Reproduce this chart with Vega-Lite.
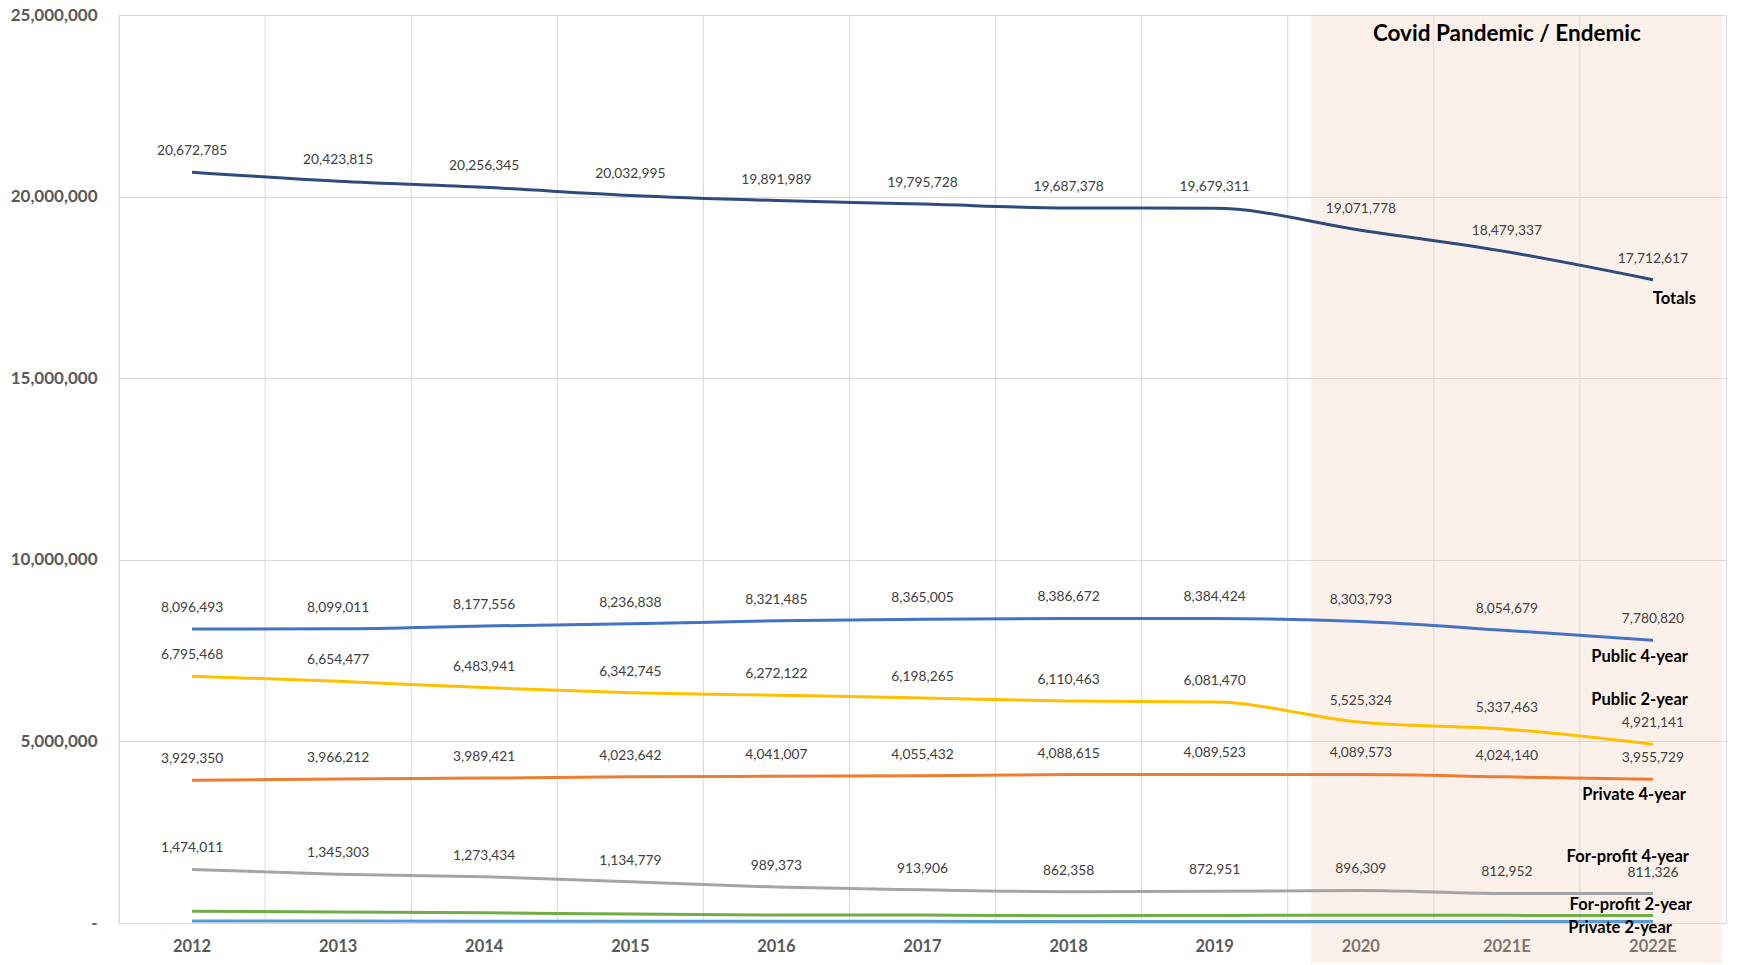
{
  "$schema": "https://vega.github.io/schema/vega-lite/v6.json",
  "width": 1607,
  "height": 908,
  "autosize": {"type": "none"},
  "padding": {"left": 119, "top": 15, "right": 15, "bottom": 42},
  "background": "white",
  "config": {
    "view": {"stroke": "#D9D9D9", "strokeWidth": 1},
    "axisX": {"grid": false, "domain": false, "ticks": false, "labelFont": "Lato", "labelFontWeight": "bold", "labelFontSize": 16.5, "labelColor": "#595959", "labelPadding": 15, "labelAngle": 0, "zindex": 1},
    "axisY": {"grid": true, "gridColor": "#D9D9D9", "gridWidth": 1, "domain": false, "ticks": false, "labelFont": "Lato", "labelFontWeight": "bold", "labelFontSize": 17, "labelColor": "#595959", "labelPadding": 22, "zindex": 0},
    "text": {"font": "Lato"}
  },
  "data": {
    "values": [
      {"year": "2012", "series": "Totals", "value": 20672785},
      {"year": "2013", "series": "Totals", "value": 20423815},
      {"year": "2014", "series": "Totals", "value": 20256345},
      {"year": "2015", "series": "Totals", "value": 20032995},
      {"year": "2016", "series": "Totals", "value": 19891989},
      {"year": "2017", "series": "Totals", "value": 19795728},
      {"year": "2018", "series": "Totals", "value": 19687378},
      {"year": "2019", "series": "Totals", "value": 19679311},
      {"year": "2020", "series": "Totals", "value": 19071778},
      {"year": "2021E", "series": "Totals", "value": 18479337},
      {"year": "2022E", "series": "Totals", "value": 17712617},
      {"year": "2012", "series": "Public 4-year", "value": 8096493},
      {"year": "2013", "series": "Public 4-year", "value": 8099011},
      {"year": "2014", "series": "Public 4-year", "value": 8177556},
      {"year": "2015", "series": "Public 4-year", "value": 8236838},
      {"year": "2016", "series": "Public 4-year", "value": 8321485},
      {"year": "2017", "series": "Public 4-year", "value": 8365005},
      {"year": "2018", "series": "Public 4-year", "value": 8386672},
      {"year": "2019", "series": "Public 4-year", "value": 8384424},
      {"year": "2020", "series": "Public 4-year", "value": 8303793},
      {"year": "2021E", "series": "Public 4-year", "value": 8054679},
      {"year": "2022E", "series": "Public 4-year", "value": 7780820},
      {"year": "2012", "series": "Public 2-year", "value": 6795468},
      {"year": "2013", "series": "Public 2-year", "value": 6654477},
      {"year": "2014", "series": "Public 2-year", "value": 6483941},
      {"year": "2015", "series": "Public 2-year", "value": 6342745},
      {"year": "2016", "series": "Public 2-year", "value": 6272122},
      {"year": "2017", "series": "Public 2-year", "value": 6198265},
      {"year": "2018", "series": "Public 2-year", "value": 6110463},
      {"year": "2019", "series": "Public 2-year", "value": 6081470},
      {"year": "2020", "series": "Public 2-year", "value": 5525324},
      {"year": "2021E", "series": "Public 2-year", "value": 5337463},
      {"year": "2022E", "series": "Public 2-year", "value": 4921141},
      {"year": "2012", "series": "Private 4-year", "value": 3929350},
      {"year": "2013", "series": "Private 4-year", "value": 3966212},
      {"year": "2014", "series": "Private 4-year", "value": 3989421},
      {"year": "2015", "series": "Private 4-year", "value": 4023642},
      {"year": "2016", "series": "Private 4-year", "value": 4041007},
      {"year": "2017", "series": "Private 4-year", "value": 4055432},
      {"year": "2018", "series": "Private 4-year", "value": 4088615},
      {"year": "2019", "series": "Private 4-year", "value": 4089523},
      {"year": "2020", "series": "Private 4-year", "value": 4089573},
      {"year": "2021E", "series": "Private 4-year", "value": 4024140},
      {"year": "2022E", "series": "Private 4-year", "value": 3955729},
      {"year": "2012", "series": "For-profit 4-year", "value": 1474011},
      {"year": "2013", "series": "For-profit 4-year", "value": 1345303},
      {"year": "2014", "series": "For-profit 4-year", "value": 1273434},
      {"year": "2015", "series": "For-profit 4-year", "value": 1134779},
      {"year": "2016", "series": "For-profit 4-year", "value": 989373},
      {"year": "2017", "series": "For-profit 4-year", "value": 913906},
      {"year": "2018", "series": "For-profit 4-year", "value": 862358},
      {"year": "2019", "series": "For-profit 4-year", "value": 872951},
      {"year": "2020", "series": "For-profit 4-year", "value": 896309},
      {"year": "2021E", "series": "For-profit 4-year", "value": 812952},
      {"year": "2022E", "series": "For-profit 4-year", "value": 811326},
      {"year": "2012", "series": "For-profit 2-year", "value": 322463},
      {"year": "2013", "series": "For-profit 2-year", "value": 305812},
      {"year": "2014", "series": "For-profit 2-year", "value": 280993},
      {"year": "2015", "series": "For-profit 2-year", "value": 245991},
      {"year": "2016", "series": "For-profit 2-year", "value": 221002},
      {"year": "2017", "series": "For-profit 2-year", "value": 218120},
      {"year": "2018", "series": "For-profit 2-year", "value": 196270},
      {"year": "2019", "series": "For-profit 2-year", "value": 208943},
      {"year": "2020", "series": "For-profit 2-year", "value": 215779},
      {"year": "2021E", "series": "For-profit 2-year", "value": 210103},
      {"year": "2022E", "series": "For-profit 2-year", "value": 204601},
      {"year": "2012", "series": "Private 2-year", "value": 55000},
      {"year": "2013", "series": "Private 2-year", "value": 53000},
      {"year": "2014", "series": "Private 2-year", "value": 51000},
      {"year": "2015", "series": "Private 2-year", "value": 49000},
      {"year": "2016", "series": "Private 2-year", "value": 47000},
      {"year": "2017", "series": "Private 2-year", "value": 45000},
      {"year": "2018", "series": "Private 2-year", "value": 43000},
      {"year": "2019", "series": "Private 2-year", "value": 42000},
      {"year": "2020", "series": "Private 2-year", "value": 41000},
      {"year": "2021E", "series": "Private 2-year", "value": 40000},
      {"year": "2022E", "series": "Private 2-year", "value": 39000}
    ]
  },
  "layer": [
    {
      "data": {"values": [{"period": "Covid Pandemic / Endemic"}]},
      "mark": {"type": "rect", "fill": "#F4C7AD", "opacity": 0.25},
      "encoding": {
        "x": {"datum": "2020", "type": "ordinal", "bandPosition": 0.16,
              "scale": {"type": "band", "domain": ["2012","2013","2014","2015","2016","2017","2018","2019","2020","2021E","2022E"], "paddingInner": 0, "paddingOuter": 0},
              "axis": {"title": null}},
        "x2": {"datum": "2022E", "bandPosition": 0.97},
        "y": {"datum": 25000000, "type": "quantitative",
              "scale": {"domain": [0, 25000000], "nice": false, "zero": false},
              "axis": {"title": null, "values": [0, 5000000, 10000000, 15000000, 20000000, 25000000], "labelExpr": "datum.value == 0 ? '-\u00a0\u00a0\u00a0' : format(datum.value, ',')"}},
        "y2": {"datum": -1100000}
      }
    },
    {
      "transform": [{"filter": "datum.series == 'Totals'"}],
      "mark": {"type": "rule", "color": "#D9D9D9", "strokeWidth": 1},
      "encoding": {
        "x": {"field": "year", "type": "ordinal", "bandPosition": 0}
      }
    },
    {
      "mark": {"type": "line", "strokeWidth": 3, "interpolate": "monotone"},
      "encoding": {
        "x": {"field": "year", "type": "ordinal", "bandPosition": 0.5},
        "y": {"field": "value", "type": "quantitative"},
        "color": {"field": "series", "type": "nominal", "legend": null,
                  "scale": {"domain": ["Totals","Public 4-year","Public 2-year","Private 4-year","For-profit 4-year","For-profit 2-year","Private 2-year"],
                            "range": ["#2F4B7C","#4472C4","#FFC000","#ED7D31","#A5A5A5","#70AD47","#5B9BD5"]}}
      }
    },
    {
      "transform": [{"filter": "datum.series != 'For-profit 2-year' && datum.series != 'Private 2-year'"}],
      "mark": {"type": "text", "dy": -21, "fontSize": 13.8, "color": "#404040", "baseline": "middle", "align": "center"},
      "encoding": {
        "x": {"field": "year", "type": "ordinal", "bandPosition": 0.5},
        "y": {"field": "value", "type": "quantitative"},
        "text": {"field": "value", "type": "quantitative", "format": ","}
      }
    },
    {
      "transform": [{"filter": "datum.series == 'Totals' && datum.year == '2022E'"}],
      "mark": {"type": "text", "dx": 43, "dy": 19, "fontSize": 16.5, "fontWeight": "bold", "color": "#000000", "align": "right", "baseline": "middle"},
      "encoding": {"x": {"field": "year", "type": "ordinal", "bandPosition": 0.5}, "y": {"field": "value", "type": "quantitative"}, "text": {"field": "series"}}
    },
    {
      "transform": [{"filter": "datum.series == 'Public 4-year' && datum.year == '2022E'"}],
      "mark": {"type": "text", "dx": 35, "dy": 17, "fontSize": 16.5, "fontWeight": "bold", "color": "#000000", "align": "right", "baseline": "middle"},
      "encoding": {"x": {"field": "year", "type": "ordinal", "bandPosition": 0.5}, "y": {"field": "value", "type": "quantitative"}, "text": {"field": "series"}}
    },
    {
      "transform": [{"filter": "datum.series == 'Public 2-year' && datum.year == '2022E'"}],
      "mark": {"type": "text", "dx": 35, "dy": -44, "fontSize": 16.5, "fontWeight": "bold", "color": "#000000", "align": "right", "baseline": "middle"},
      "encoding": {"x": {"field": "year", "type": "ordinal", "bandPosition": 0.5}, "y": {"field": "value", "type": "quantitative"}, "text": {"field": "series"}}
    },
    {
      "transform": [{"filter": "datum.series == 'Private 4-year' && datum.year == '2022E'"}],
      "mark": {"type": "text", "dx": 33, "dy": 16, "fontSize": 16.5, "fontWeight": "bold", "color": "#000000", "align": "right", "baseline": "middle"},
      "encoding": {"x": {"field": "year", "type": "ordinal", "bandPosition": 0.5}, "y": {"field": "value", "type": "quantitative"}, "text": {"field": "series"}}
    },
    {
      "transform": [{"filter": "datum.series == 'For-profit 4-year' && datum.year == '2022E'"}],
      "mark": {"type": "text", "dx": 36, "dy": -37, "fontSize": 16.5, "fontWeight": "bold", "color": "#000000", "align": "right", "baseline": "middle"},
      "encoding": {"x": {"field": "year", "type": "ordinal", "bandPosition": 0.5}, "y": {"field": "value", "type": "quantitative"}, "text": {"field": "series"}}
    },
    {
      "transform": [{"filter": "datum.series == 'For-profit 2-year' && datum.year == '2022E'"}],
      "mark": {"type": "text", "dx": 39, "dy": -11, "fontSize": 16.5, "fontWeight": "bold", "color": "#000000", "align": "right", "baseline": "middle"},
      "encoding": {"x": {"field": "year", "type": "ordinal", "bandPosition": 0.5}, "y": {"field": "value", "type": "quantitative"}, "text": {"field": "series"}}
    },
    {
      "transform": [{"filter": "datum.series == 'Private 2-year' && datum.year == '2022E'"}],
      "mark": {"type": "text", "dx": 19, "dy": 6, "fontSize": 16.5, "fontWeight": "bold", "color": "#000000", "align": "right", "baseline": "middle"},
      "encoding": {"x": {"field": "year", "type": "ordinal", "bandPosition": 0.5}, "y": {"field": "value", "type": "quantitative"}, "text": {"field": "series"}}
    },
    {
      "data": {"values": [{"label": "Covid Pandemic / Endemic"}]},
      "mark": {"type": "text", "dy": 19, "fontSize": 22.5, "fontWeight": "bold", "color": "#000000", "align": "center", "baseline": "middle"},
      "encoding": {
        "x": {"datum": "2021E", "type": "ordinal", "bandPosition": 0.5},
        "y": {"datum": 25000000, "type": "quantitative"},
        "text": {"field": "label"}
      }
    }
  ]
}
